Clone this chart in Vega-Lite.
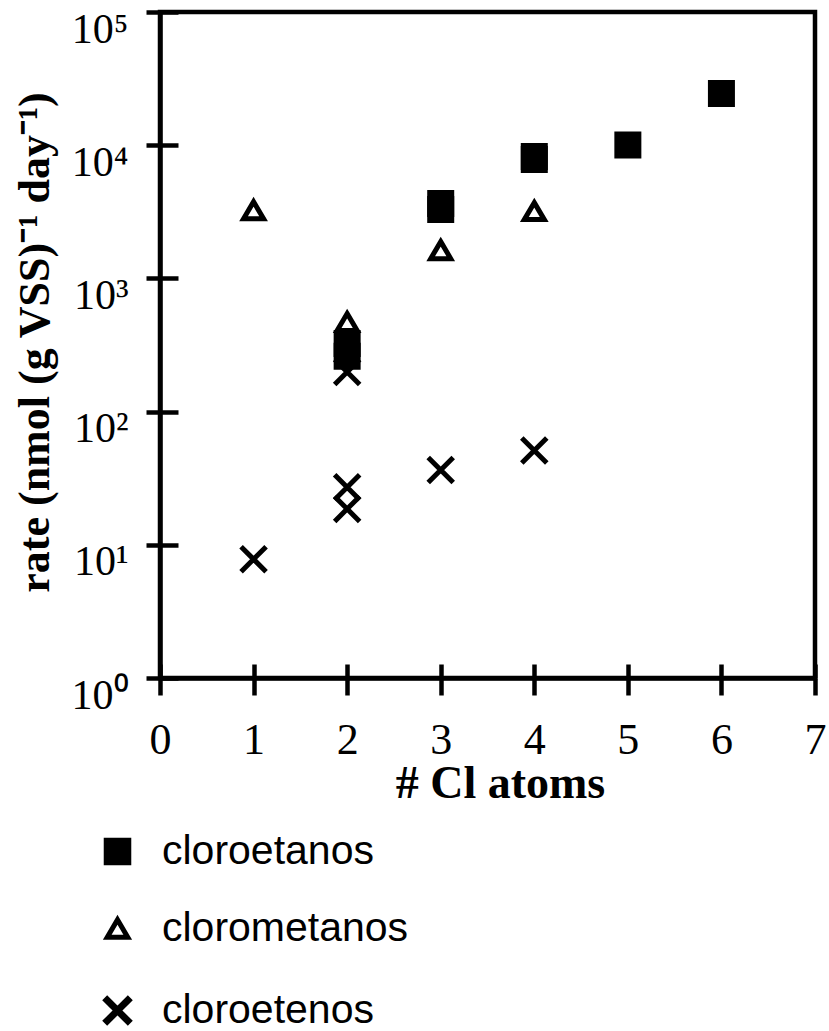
{
  "$schema": "https://vega.github.io/schema/vega-lite/v6.json",
  "autosize": {"type": "none"},
  "padding": {"left": 160, "top": 12, "right": 14, "bottom": 353},
  "width": 655,
  "height": 666,
  "background": "white",
  "config": {
    "view": {"stroke": "black", "strokeWidth": 4.5},
    "axis": {"grid": false, "domainColor": "black", "tickColor": "black", "labelColor": "black", "titleColor": "black", "domainWidth": 4.5, "tickWidth": 4.5, "labelFlush": false, "labelOverlap": false, "labelBound": false},
    "legend": {
      "orient": "none", "legendX": -63, "legendY": 819, "padding": 0, "direction": "vertical",
      "symbolSize": 420, "symbolStrokeWidth": 5, "symbolStrokeColor": "black", "symbolOpacity": 1,
      "labelFont": "Liberation Sans", "labelFontSize": 41, "labelColor": "black", "labelOffset": 24,
      "rowPadding": 34, "labelLimit": 400
    }
  },
  "data": {
    "values": [
      {"cl": 1, "rate": 7.8, "series": "cloroetenos"},
      {"cl": 2, "rate": 27, "series": "cloroetenos"},
      {"cl": 2, "rate": 18.6, "series": "cloroetenos"},
      {"cl": 2, "rate": 198, "series": "cloroetenos"},
      {"cl": 3, "rate": 36.5, "series": "cloroetenos"},
      {"cl": 4, "rate": 51, "series": "cloroetenos"},
      {"cl": 1, "rate": 3250, "series": "clorometanos"},
      {"cl": 2, "rate": 470, "series": "clorometanos"},
      {"cl": 3, "rate": 1630, "series": "clorometanos"},
      {"cl": 4, "rate": 3200, "series": "clorometanos"},
      {"cl": 2, "rate": 260, "series": "cloroetanos"},
      {"cl": 2, "rate": 325, "series": "cloroetanos"},
      {"cl": 3, "rate": 3290, "series": "cloroetanos"},
      {"cl": 3, "rate": 3650, "series": "cloroetanos"},
      {"cl": 4, "rate": 7810, "series": "cloroetanos"},
      {"cl": 4, "rate": 8230, "series": "cloroetanos"},
      {"cl": 5, "rate": 10040, "series": "cloroetanos"},
      {"cl": 6, "rate": 24400, "series": "cloroetanos"}
    ]
  },
  "resolve": {"axis": {"x": "independent", "y": "independent"}},
  "layer": [
    {
      "mark": {"type": "point", "stroke": "black", "strokeWidth": 5, "opacity": 1, "fillOpacity": 1, "strokeCap": "butt", "size": 400},
      "encoding": {
        "x": {
          "field": "cl", "type": "quantitative",
          "scale": {"domain": [0, 7], "nice": false, "zero": false},
          "axis": {
            "values": [0, 1, 2, 3, 4, 5, 6, 7], "format": "d", "orient": "bottom",
            "tickSize": 17, "labelFont": "Liberation Serif", "labelFontSize": 44, "labelPadding": 23,
            "title": "# Cl atoms", "titleFont": "Liberation Serif", "titleFontSize": 46, "titleFontWeight": "bold",
            "titleX": 340, "titleY": 119, "titleBaseline": "alphabetic", "titleAlign": "center"
          }
        },
        "y": {
          "field": "rate", "type": "quantitative",
          "scale": {"type": "log", "domain": [1, 100000], "nice": false},
          "axis": {
            "values": [1, 10, 100, 1000, 10000, 100000], "orient": "left",
            "labelExpr": "'10' + ['⁰','¹','²','³','⁴','⁵'][round(log(datum.value)/LN10)]",
            "tickSize": 14, "labelFont": "Liberation Serif", "labelFontSize": 42, "labelPadding": 18,
            "labelBaseline": "middle", "labelOffset": 17,
            "title": "rate (nmol (g VSS)⁻¹ day⁻¹)", "titleFont": "Liberation Serif", "titleFontSize": 44, "titleFontWeight": "bold",
            "titleAngle": -90, "titleX": -112, "titleY": 330, "titleBaseline": "alphabetic", "titleAlign": "center"
          }
        },
        "shape": {
          "field": "series", "type": "nominal",
          "scale": {"domain": ["cloroetanos", "clorometanos", "cloroetenos"], "range": ["M-1.1,-1.1H1.1V1.1H-1.1Z", "M0,-0.85L1,0.85L-1,0.85Z", "M-1.25,-1.25L1.25,1.25M-1.25,1.25L1.25,-1.25"]},
          "legend": {"title": null, "encode": {"symbols": {"update": {
            "stroke": {"value": "black"},
            "strokeCap": {"value": "butt"},
            "strokeWidth": {"signal": "datum.value === 'cloroetenos' ? 7 : 5"}
          }}}}
        },
        "fill": {
          "field": "series", "type": "nominal",
          "scale": {"domain": ["cloroetanos", "clorometanos", "cloroetenos"], "range": ["black", "white", "black"]},
          "legend": {"title": null, "encode": {"symbols": {"update": {
            "stroke": {"value": "black"},
            "strokeCap": {"value": "butt"},
            "strokeWidth": {"signal": "datum.value === 'cloroetenos' ? 7 : 5"}
          }}}}
        }
      }
    },
    {
      "mark": {"type": "point", "opacity": 0},
      "encoding": {
        "x": {
          "field": "cl", "type": "quantitative",
          "axis": {"values": [0, 1, 2, 3, 4, 5, 6, 7], "orient": "bottom", "domain": false, "labels": false, "tickSize": -14, "title": null}
        },
        "y": {
          "field": "rate", "type": "quantitative",
          "axis": {"values": [1, 10, 100, 1000, 10000, 100000], "orient": "left", "domain": false, "labels": false, "tickSize": -18, "title": null}
        }
      }
    }
  ]
}
